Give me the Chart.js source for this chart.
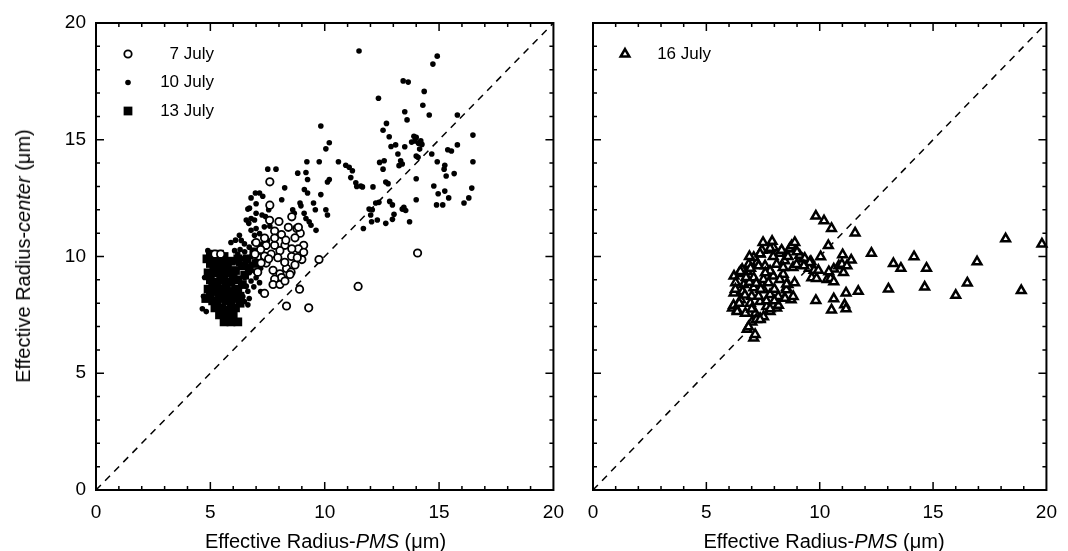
<!DOCTYPE html>
<html>
<head>
<meta charset="utf-8">
<script src="https://cdn.jsdelivr.net/npm/chart.js@4.4.1/dist/chart.umd.min.js"></script>
<style>
  html, body { margin: 0; padding: 0; background: #fff; }
  #wrap { position: relative; width: 1068px; height: 551px; overflow: hidden;
          font-family: "Liberation Sans", Arial, Helvetica, sans-serif; color: #000; }
  #wrap canvas { position: absolute; top: 0; }
  .ttl { position: absolute; font-size: 20px; white-space: nowrap; line-height: 1; }
</style>
</head>
<body>
<div id="wrap">
  <canvas id="chartLeft" width="575" height="551" style="left:0"></canvas>
  <canvas id="chartRight" width="493" height="551" style="left:575px"></canvas>
  <div class="ttl" style="left:96px;width:459px;top:531px;text-align:center">Effective Radius-<i>PMS</i> (&mu;m)</div>
  <div class="ttl" style="left:593px;width:462px;top:531px;text-align:center">Effective Radius-<i>PMS</i> (&mu;m)</div>
  <div class="ttl" style="left:23px;top:256px;transform:translate(-50%,-50%) rotate(-90deg)">Effective Radius-<i>center</i> (&mu;m)</div>
</div>

<script>
// ---- data: [PMS, center] in um ----
var tickValues = [0, 5, 10, 15, 20];
var diagonal = [[0, 0], [20, 20]];

var july7 = [
  [7.6, 13.2], [7.6, 12.2], [8.56, 11.7], [7.59, 11.55], [7.81, 11.09], [8.11, 10.94], [8.41, 11.25],
  [8.78, 11.2], [8.93, 11.0], [8.7, 10.8], [9.08, 10.48], [8.85, 10.33], [8.56, 10.33], [8.26, 10.48],
  [8.04, 10.25], [7.81, 10.48], [7.66, 10.1], [7.44, 9.72], [7.74, 9.41], [8.04, 9.26], [8.33, 9.49],
  [8.7, 9.64], [9.0, 9.87], [9.08, 10.18], [8.53, 9.33], [8.11, 9.1], [7.81, 9.03], [7.74, 8.8],
  [8.04, 8.8], [8.26, 8.95], [8.48, 9.23], [7.37, 10.02], [7.22, 9.72], [7.07, 9.33], [7.44, 10.48],
  [7.37, 10.79], [7.81, 10.79], [8.85, 11.25], [8.3, 10.7], [8.0, 11.5], [7.95, 9.95], [8.25, 9.75],
  [8.55, 10.0], [8.8, 9.95], [7.55, 9.9], [7.2, 10.3], [6.95, 10.1], [7.0, 10.6],
  [9.75, 9.87], [8.9, 8.6], [8.33, 7.88], [9.3, 7.8], [11.46, 8.72], [14.06, 10.15], [7.37, 8.42],
  [5.2, 10.1], [5.45, 10.1]
];

var july10 = [
  [11.5, 18.8], [14.92, 18.58], [14.73, 18.24], [13.43, 17.52], [13.65, 17.47], [14.35, 17.07],
  [12.35, 16.78], [14.29, 16.48], [14.57, 16.06], [15.8, 16.06], [13.5, 16.2], [13.6, 15.85],
  [12.7, 15.7], [12.55, 15.41], [12.82, 15.13], [16.48, 15.2], [13.9, 15.15], [14.0, 15.1],
  [13.8, 14.9], [13.95, 14.95], [14.1, 14.85], [14.2, 14.95], [14.25, 14.8], [14.15, 14.6],
  [12.9, 14.71], [13.1, 14.78], [13.5, 14.7], [15.8, 14.78], [15.38, 14.57], [15.54, 14.52],
  [14.68, 14.39], [13.2, 14.39], [14.0, 14.3], [14.08, 14.25], [16.48, 14.06], [14.92, 14.06],
  [15.25, 13.91], [15.22, 13.74], [12.4, 14.03], [12.6, 14.1], [12.55, 13.74], [13.32, 14.1],
  [13.39, 13.96], [13.25, 13.89], [14.0, 13.33], [15.66, 13.55], [15.31, 13.45], [12.67, 13.19],
  [12.77, 13.12], [12.11, 12.98], [11.65, 12.98], [11.4, 13.0], [14.77, 13.02], [14.96, 12.69],
  [15.25, 12.8], [15.42, 12.51], [16.43, 12.93], [16.3, 12.51], [16.09, 12.29], [14.89, 12.21],
  [15.16, 12.21], [14.0, 12.43], [12.23, 12.29], [12.37, 12.32], [12.84, 12.36], [12.96, 12.21],
  [13.03, 11.81], [12.96, 11.59], [13.39, 12.03], [13.54, 11.97], [13.46, 12.11], [13.71, 11.49],
  [11.94, 12.03], [12.08, 12.0], [12.01, 11.78], [12.05, 11.49], [12.3, 11.56], [12.67, 11.42],
  [11.69, 11.2],
  [9.83, 15.59], [10.2, 14.87], [10.05, 14.61], [9.22, 14.06], [9.76, 14.06], [10.6, 14.06],
  [10.92, 13.91], [11.07, 13.82], [11.21, 13.67], [7.51, 13.74], [7.87, 13.74], [8.82, 13.57],
  [9.18, 13.6], [9.25, 13.3], [9.11, 12.87], [9.25, 12.72], [10.12, 13.19], [10.2, 13.3],
  [11.14, 13.38], [11.36, 13.16], [11.58, 13.02], [8.25, 12.94], [6.97, 12.72], [7.15, 12.72],
  [7.29, 12.58], [6.78, 12.51], [9.51, 12.29], [9.83, 12.65], [10.12, 11.78], [10.05, 12.0],
  [9.59, 12.0], [8.92, 12.29], [8.96, 12.17], [8.12, 12.43], [7.0, 12.26], [6.71, 12.07],
  [6.64, 12.03], [7.0, 11.85], [7.26, 11.78], [7.55, 12.0], [8.6, 12.0], [8.67, 11.85],
  [9.1, 11.85], [9.18, 11.63], [9.32, 11.49], [9.4, 11.34], [9.62, 11.12], [6.57, 11.56],
  [6.68, 11.42], [6.78, 11.63], [6.93, 11.56], [7.41, 11.71], [7.55, 11.56], [6.78, 11.12],
  [6.93, 10.91], [7.15, 10.98], [7.36, 11.27], [6.27, 10.91], [6.35, 10.69], [6.49, 10.54],
  [6.06, 10.25], [6.2, 10.11], [7.29, 10.54], [7.44, 10.4], [7.15, 10.18], [6.93, 10.03],
  [7.0, 9.82], [6.78, 9.67], [6.57, 9.53], [6.71, 9.31], [6.93, 9.38], [7.0, 9.09], [7.15, 8.88],
  [6.78, 8.95], [6.57, 8.73], [6.64, 8.51], [6.42, 8.29], [4.65, 7.76], [4.82, 7.64], [4.89, 10.25],
  [4.97, 10.03], [5.04, 9.82], [6.49, 8.07], [6.64, 7.93],
  [5.9, 10.6], [6.1, 10.7], [6.3, 10.3], [6.5, 10.2], [6.7, 10.4], [6.9, 10.6], [7.1, 10.5],
  [6.4, 9.9], [6.6, 9.8], [6.8, 10.0], [7.2, 9.5], [6.5, 9.1], [6.9, 8.7], [7.2, 8.5], [6.3, 8.7],
  [6.7, 8.2], [7.3, 9.9], [7.5, 10.7], [7.6, 11.3], [7.0, 11.2], [6.2, 9.7], [4.7, 8.3], [4.75, 9.1]
];

var july13 = [
  [5.0, 10.1], [5.4, 10.1], [5.0, 9.7], [5.3, 9.6], [5.6, 9.7], [5.9, 9.8], [6.2, 9.9], [4.9, 9.3],
  [5.2, 9.3], [5.5, 9.4], [5.8, 9.3], [6.1, 9.4], [6.4, 9.6], [5.0, 9.0], [5.3, 8.9], [5.6, 9.0],
  [5.9, 8.9], [6.2, 9.0], [6.5, 9.2], [4.9, 8.6], [5.2, 8.5], [5.5, 8.6], [5.8, 8.5], [6.1, 8.6],
  [6.4, 8.8], [4.8, 8.2], [5.1, 8.1], [5.4, 8.2], [5.7, 8.1], [6.0, 8.2], [6.3, 8.3], [5.2, 7.8],
  [5.5, 7.8], [5.8, 7.7], [6.1, 7.8], [5.4, 7.5], [5.7, 7.4], [6.0, 7.5], [5.6, 7.2], [5.9, 7.2],
  [6.2, 7.2], [5.0, 8.4], [5.3, 8.7], [5.7, 8.8], [6.0, 9.1], [5.45, 9.15], [5.15, 9.55],
  [5.75, 9.55], [6.3, 8.0], [6.6, 9.9], [6.9, 10.2], [6.7, 9.5], [7.0, 9.7],
  [4.85, 9.9], [5.2, 9.95], [5.6, 10.0], [5.1, 8.8], [5.4, 8.4], [5.7, 8.3], [6.0, 8.4],
  [5.3, 8.0], [5.6, 7.6], [5.9, 7.9], [6.2, 8.5], [5.5, 9.9]
];

var july16 = [
  [9.83, 11.73], [10.19, 11.53], [10.52, 11.2], [11.56, 11.01], [10.38, 10.47], [10.04, 9.99],
  [11.01, 10.08], [11.39, 9.85], [12.28, 10.14], [13.25, 9.7], [13.58, 9.5], [14.16, 9.99],
  [14.71, 9.5], [16.94, 9.77], [18.2, 10.76], [19.8, 10.54], [16.51, 8.87], [16.0, 8.34],
  [18.89, 8.54], [14.63, 8.69], [13.03, 8.61], [11.7, 8.51], [11.16, 8.44], [10.62, 8.19],
  [9.83, 8.12], [10.52, 7.71], [11.1, 7.93], [11.16, 7.76], [9.65, 9.09], [9.86, 9.06],
  [10.33, 9.02], [10.48, 9.06], [10.62, 8.92], [10.62, 9.46], [10.84, 9.6], [10.98, 9.67],
  [11.05, 9.31], [11.2, 9.6], [10.4, 9.35], [9.54, 9.5], [9.75, 9.41], [9.94, 9.41],
  [8.7, 10.33], [8.31, 10.18], [9.25, 9.89], [9.61, 9.79], [8.53, 8.66], [8.74, 8.15], [8.45, 8.22],
  [8.1, 7.79], [7.09, 6.51], [6.8, 6.88], [7.01, 7.2], [7.37, 7.35], [6.22, 8.44], [6.15, 7.79],
  [6.36, 7.71], [6.44, 9.27], [6.8, 9.36], [7.37, 10.11], [7.81, 10.28], [8.24, 10.14], [8.67, 10.33],
  [7.23, 9.75], [7.59, 9.6], [8.1, 9.67], [8.45, 9.82], [7.09, 9.09], [7.52, 9.02], [7.95, 9.16],
  [8.39, 9.24], [6.65, 8.8], [7.09, 8.66], [7.52, 8.58], [7.81, 8.37], [8.17, 8.29], [6.51, 8.15],
  [6.94, 8.0], [7.37, 8.07], [7.66, 7.86], [8.53, 8.58], [6.36, 7.64], [6.72, 7.57], [7.16, 7.57],
  [7.52, 7.42], [7.81, 7.64], [7.2, 7.3], [6.22, 9.16], [6.29, 8.88], [6.58, 9.45], [6.87, 9.67],
  [7.09, 9.96], [7.81, 9.38], [7.74, 8.88], [8.39, 9.53], [8.82, 9.53], [8.89, 8.88], [8.6, 8.8],
  [8.24, 9.02], [7.96, 10.38], [8.32, 10.27], [8.76, 10.46], [9.12, 10.05], [9.34, 9.92],
  [9.56, 9.74], [8.98, 9.66], [8.54, 8.82], [8.83, 8.29], [8.47, 8.21], [8.18, 7.91], [7.81, 7.76],
  [7.37, 7.3], [7.15, 6.66], [6.86, 6.99], [6.5, 9.36], [6.28, 8.6], [6.2, 7.91], [7.45, 10.27],
  [7.81, 10.35], [7.37, 10.12], [7.5, 10.6], [7.9, 10.65], [8.9, 10.6], [6.9, 10.0], [7.0, 8.3],
  [6.6, 8.5], [7.3, 8.3], [7.6, 9.3], [8.0, 8.6], [6.95, 9.5],
  [6.45, 8.0], [6.7, 8.35], [6.9, 8.9], [7.2, 8.85], [7.4, 8.6], [7.3, 9.6], [7.0, 7.75],
  [6.75, 9.1], [7.65, 8.1], [8.0, 8.1], [7.95, 10.0], [8.6, 10.0], [9.0, 10.2], [9.3, 9.6]
];

var FONT = '"Liberation Sans", Arial, Helvetica, sans-serif';

function pts(list) {
  return list.map(function (p) { return { x: p[0], y: p[1] }; });
}

// box round the plot with small inward ticks on all four sides
var frameTicks = {
  id: 'frameTicks',
  afterDatasetsDraw: function (chart) {
    var a = chart.chartArea, ctx = chart.ctx;
    var xs = chart.scales.x, ys = chart.scales.y;
    ctx.save();
    ctx.strokeStyle = '#000';
    ctx.lineWidth = 2;
    ctx.strokeRect(a.left, a.top, a.right - a.left, a.bottom - a.top);
    ctx.lineWidth = 1.5;
    ctx.beginPath();
    for (var v = xs.min + 1; v < xs.max; v++) {
      var len = v % 5 === 0 ? 8 : 4;
      var px = xs.getPixelForValue(v), py = ys.getPixelForValue(v);
      ctx.moveTo(px, a.bottom); ctx.lineTo(px, a.bottom - len);
      ctx.moveTo(px, a.top); ctx.lineTo(px, a.top + len);
      ctx.moveTo(a.left, py); ctx.lineTo(a.left + len, py);
      ctx.moveTo(a.right, py); ctx.lineTo(a.right - len, py);
    }
    ctx.stroke();
    ctx.restore();
  }
};

// legend inside the plot, top left, text right aligned
var markLegend = {
  id: 'markLegend',
  afterDraw: function (chart) {
    var a = chart.chartArea, ctx = chart.ctx;
    var sets = chart.data.datasets.filter(function (d) { return d.label; });
    ctx.save();
    ctx.font = '17px ' + FONT;
    ctx.textAlign = 'right';
    ctx.textBaseline = 'middle';
    sets.forEach(function (d, i) {
      var y = a.top + 31 + i * 28.5;
      ctx.fillStyle = d.pointBackgroundColor;
      ctx.strokeStyle = d.pointBorderColor;
      ctx.lineWidth = d.pointBorderWidth;
      Chart.helpers.drawPoint(ctx, {
        pointStyle: d.pointStyle, radius: d.pointRadius,
        borderWidth: d.pointBorderWidth, rotation: 0
      }, a.left + 32, y);
      ctx.fillStyle = '#000';
      ctx.fillText(d.label, a.left + 118, y);
    });
    ctx.restore();
  }
};

function diagSet() {
  return {
    data: pts(diagonal), showLine: true, pointRadius: 0, borderColor: '#000',
    borderWidth: 1.5, borderDash: [7, 6], fill: false, clip: false
  };
}

function axis(pad, showLabels, size) {
  return {
    type: 'linear', min: 0, max: 20,
    afterBuildTicks: function (s) {
      s.ticks = tickValues.map(function (v) { return { value: v }; });
    },
    afterFit: function (s) {
      if (s.isHorizontal()) s.height = size; else s.width = size;
    },
    grid: { display: false, drawTicks: false },
    border: { display: false },
    ticks: {
      display: showLabels, autoSkip: false, maxRotation: 0,
      color: '#000', padding: pad, font: { size: 19, family: FONT }
    }
  };
}

function baseOptions(padRight, yWidth, yLabels) {
  return {
    responsive: false,
    animation: false,
    events: [],
    layout: { padding: { top: 23, right: padRight, left: 0, bottom: 0 } },
    plugins: { legend: { display: false }, tooltip: { enabled: false } },
    scales: {
      x: axis(11, true, 61),
      y: axis(10, yLabels, yWidth)
    }
  };
}

new Chart(document.getElementById('chartLeft').getContext('2d'), {
  type: 'scatter',
  data: {
    datasets: [
      { label: '7 July', data: pts(july7), pointStyle: 'circle', pointRadius: 3.7,
        pointBorderWidth: 1.8, pointBackgroundColor: '#fff', pointBorderColor: '#000', clip: false },
      { label: '10 July', data: pts(july10), pointStyle: 'circle', pointRadius: 2.8,
        pointBorderWidth: 0, pointBackgroundColor: '#000', pointBorderColor: '#000', clip: false },
      { label: '13 July', data: pts(july13), pointStyle: 'rect', pointRadius: 6.2,
        pointBorderWidth: 0, pointBackgroundColor: '#000', pointBorderColor: '#000', clip: false },
      diagSet()
    ]
  },
  options: baseOptions(20, 96, true),
  plugins: [frameTicks, markLegend]
});

new Chart(document.getElementById('chartRight').getContext('2d'), {
  type: 'scatter',
  data: {
    datasets: [
      { label: '16 July', data: pts(july16), pointStyle: 'triangle', pointRadius: 5,
        pointBorderWidth: 2.5, pointBackgroundColor: '#fff', pointBorderColor: '#000', clip: false },
      diagSet()
    ]
  },
  options: baseOptions(13, 18, false),
  plugins: [frameTicks, markLegend]
});
</script>
</body>
</html>
